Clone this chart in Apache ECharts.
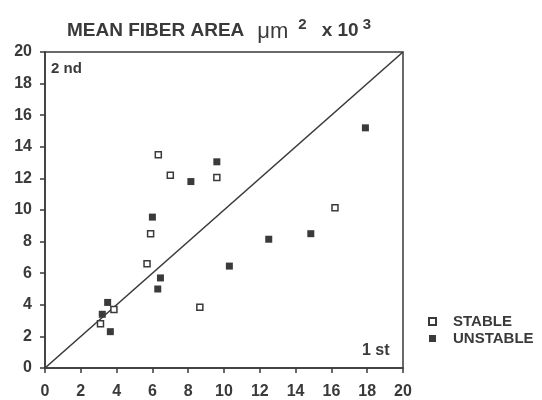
<!DOCTYPE html>
<html>
<head>
<meta charset="utf-8">
<script src="https://cdn.jsdelivr.net/npm/echarts@6/dist/echarts.min.js"></script>
<style>
  html, body { margin: 0; padding: 0; background: #fff; }
  #chart { width: 542px; height: 400px; }
</style>
</head>
<body>
<div id="chart"></div>
<script>
// mean fiber area (x 10^3 um^2), 1st vs 2nd biopsy
const stablePoints = [
  [6.33, 13.5], [7.0, 12.2], [9.6, 12.05], [5.9, 8.5], [5.7, 6.6],
  [8.65, 3.85], [3.85, 3.7], [3.1, 2.8], [16.2, 10.15]
]
const unstablePoints = [
  [9.6, 13.05], [8.15, 11.8], [6.0, 9.55], [6.45, 5.7], [6.3, 5.0],
  [10.3, 6.45], [12.5, 8.15], [14.85, 8.5], [17.9, 15.2],
  [3.5, 4.15], [3.2, 3.4], [3.65, 2.3]
]
const identityLine = [[0, 0], [20, 20]]
const axisTicks = [0, 2, 4, 6, 8, 10, 12, 14, 16, 18, 20]

const ink = '#3a3a3a'
const font = 'Liberation Sans'

const chart = echarts.init(document.getElementById('chart'))
const option = {
  backgroundColor: '#fff',
  animation: false,
  textStyle: { fontFamily: font },
  title: {
    left: 62,
    top: 12,
    text: '{b|MEAN FIBER AREA}{mu|\u03bcm}{sup|2}{x|x 10}{sup2|3}',
    textStyle: {
      fontWeight: 'normal',
      rich: {
        b: { fontSize: 19, fontWeight: 'bold', color: ink, fontFamily: font },
        mu: { fontSize: 22, fontWeight: 'normal', color: ink, fontFamily: font, padding: [3, 0, 0, 13] },
        sup: { fontSize: 15, fontWeight: 'bold', color: ink, fontFamily: font, padding: [0, 0, 12, 10] },
        x: { fontSize: 19, fontWeight: 'bold', color: ink, fontFamily: font, padding: [0, 0, 0, 15] },
        sup2: { fontSize: 15, fontWeight: 'bold', color: ink, fontFamily: font, padding: [0, 0, 12, 4] }
      }
    }
  },
  grid: {
    left: 45, right: 139, top: 52, bottom: 32,
    show: true, borderColor: ink, borderWidth: 1.5,
    containLabel: false
  },
  legend: {
    orient: 'vertical',
    left: 423,
    top: 309,
    itemWidth: 7,
    itemHeight: 7,
    itemGap: 2,
    icon: 'rect',
    textStyle: { fontSize: 15, color: ink, fontWeight: 'bold', fontFamily: font, padding: [0, 0, 0, 12] },
    data: ['STABLE', 'UNSTABLE']
  },
  xAxis: {
    type: 'value',
    min: 0, max: 20, interval: 2,
    axisLine: { lineStyle: { color: ink, width: 1.5 } },
    axisTick: { show: true, length: 5, lineStyle: { color: ink, width: 1.5 } },
    splitLine: { show: false },
    axisLabel: {
      fontSize: 16, color: ink, margin: 16, fontFamily: font, fontWeight: 'bold',
      formatter: v => axisTicks.includes(v) ? String(v) : ''
    }
  },
  yAxis: {
    type: 'value',
    min: 0, max: 20, interval: 2,
    axisLine: { lineStyle: { color: ink, width: 1.5 } },
    axisTick: { show: true, length: 5, lineStyle: { color: ink, width: 1.5 } },
    splitLine: { show: false },
    axisLabel: {
      fontSize: 16, color: ink, margin: 13, fontFamily: font, fontWeight: 'bold',
      formatter: v => axisTicks.includes(v) ? String(v) : ''
    }
  },
  graphic: [
    { type: 'text', left: 51, top: 61, style: { text: '2 nd', fontSize: 15, fontWeight: 'bold', fill: ink, fontFamily: font } },
    { type: 'text', left: 362, top: 343, style: { text: '1 st', fontSize: 16, fontWeight: 'bold', fill: ink, fontFamily: font } }
  ],
  series: [
    {
      name: 'identity',
      type: 'line',
      data: identityLine,
      symbol: 'none',
      silent: true,
      lineStyle: { color: ink, width: 1.6 },
      z: 1
    },
    {
      name: 'STABLE',
      type: 'scatter',
      data: stablePoints,
      symbol: 'rect',
      symbolSize: 6,
      itemStyle: { color: '#fff', borderColor: ink, borderWidth: 1.5, opacity: 1 },
      z: 3
    },
    {
      name: 'UNSTABLE',
      type: 'scatter',
      data: unstablePoints,
      symbol: 'rect',
      symbolSize: 7,
      itemStyle: { color: ink, opacity: 1 },
      z: 3
    }
  ]
}
chart.setOption(option)
</script>
</body>
</html>
